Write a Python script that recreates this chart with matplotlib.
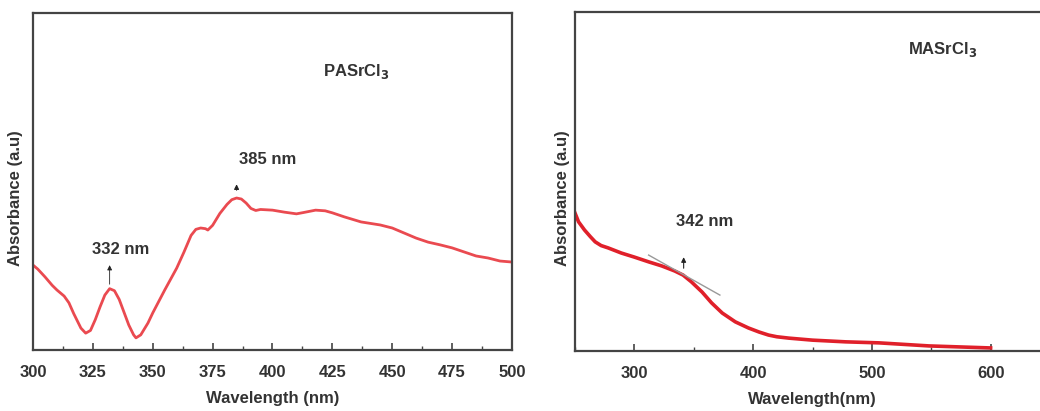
import matplotlib
matplotlib.use("Agg")
import matplotlib.pyplot as plt
from matplotlib.ticker import MultipleLocator

# ---- PASrCl3 spectrum (left) ----
pa_wl = [300, 302, 305, 308, 310, 313, 315, 317, 320, 322, 324, 326, 328, 330,
         332, 334, 336, 338, 340, 342, 343, 345, 348, 350, 355, 360, 363, 366,
         368, 370, 372, 373, 375, 378, 381, 383, 385, 387, 389, 391, 393, 395,
         400, 405, 410, 413, 418, 422, 425, 430, 437, 445, 450, 455, 460, 465,
         470, 475, 480, 485, 490, 495, 500]
pa_abs = [0.252, 0.240, 0.217, 0.192, 0.178, 0.160, 0.140, 0.108, 0.065, 0.050,
          0.058, 0.090, 0.128, 0.163, 0.182, 0.176, 0.150, 0.112, 0.074, 0.045,
          0.036, 0.045, 0.080, 0.110, 0.178, 0.243, 0.290, 0.340, 0.358, 0.362,
          0.360, 0.356, 0.370, 0.405, 0.432, 0.446, 0.451, 0.448, 0.436, 0.420,
          0.414, 0.417, 0.415, 0.409, 0.404, 0.408, 0.415, 0.413, 0.407, 0.395,
          0.380, 0.371, 0.362, 0.347, 0.332, 0.320, 0.312, 0.303, 0.291, 0.279,
          0.273, 0.264, 0.261]

# ---- MASrCl3 spectrum (right) ----
ma_wl = [250, 253, 258, 263, 267, 272, 278, 289, 300, 312, 323, 334, 341, 348,
         357, 365, 374, 385, 396, 405, 413, 420, 430, 450, 478, 506, 548, 600]
ma_abs = [0.407, 0.381, 0.357, 0.337, 0.322, 0.311, 0.304, 0.289, 0.277, 0.263,
          0.251, 0.236, 0.224, 0.204, 0.174, 0.142, 0.112, 0.086, 0.068, 0.056,
          0.047, 0.042, 0.038, 0.032, 0.027, 0.024, 0.015, 0.009]

# tangent line at the absorption edge
tan_x = [312, 372]
tan_y = [0.283, 0.165]

pa_xticks = [300, 325, 350, 375, 400, 425, 450, 475, 500]
ma_xticks = [300, 400, 500, 600]

TXT = "#333333"
SP = "#444444"
FS = 12
plt.rcParams['font.family'] = ['Liberation Sans', 'DejaVu Sans']
plt.rcParams['font.weight'] = 'bold'

fig = plt.figure(figsize=(10.4, 4.11), dpi=100)
ax1 = fig.add_axes([33/1040, 61/411, 479/1040, 337/411])
ax2 = fig.add_axes([575/1040, 60/411, 475/1040, 339/411])

# Left panel
ax1.plot(pa_wl, pa_abs, color="#ea4a50", lw=2.0, solid_joinstyle='round')
ax1.set_xlim(300, 500)
ax1.set_ylim(0, 1)
ax1.set_xticks(pa_xticks)
ax1.xaxis.set_minor_locator(MultipleLocator(12.5))
ax1.set_yticks([])
ax1.text(421, 0.825, "PASrCl$_\\mathbf{3}$", fontsize=FS, fontweight='bold', color=TXT,
         va='center', ha='left')
ax1.text(398, 0.564, "385 nm", fontsize=FS, fontweight='bold', color=TXT, ha='center', va='center')
ax1.text(336.5, 0.297, "332 nm", fontsize=FS, fontweight='bold', color=TXT, ha='center', va='center')
ax1.annotate("", xy=(385, 0.50), xytext=(385, 0.466),
             arrowprops=dict(arrowstyle='-|>', color='#222222', lw=0.8, mutation_scale=7))
ax1.annotate("", xy=(332, 0.26), xytext=(332, 0.187),
             arrowprops=dict(arrowstyle='-|>', color='#222222', lw=0.6, mutation_scale=7))
ax1.set_xlabel("Wavelength (nm)", fontsize=FS, fontweight='bold', color=TXT, labelpad=8)
ax1.set_ylabel("Absorbance (a.u)", fontsize=FS, fontweight='bold', color=TXT)
ax1.yaxis.set_label_coords(-0.021, 0.45)

# Right panel
ax2.plot(ma_wl, ma_abs, color="#e0202a", lw=2.6, solid_joinstyle='round')
ax2.plot(tan_x, tan_y, color="#999999", lw=1.0)
ax2.set_xlim(250, 650)
ax2.set_ylim(0, 1)
ax2.set_xticks(ma_xticks)
ax2.xaxis.set_minor_locator(MultipleLocator(50))
ax2.set_yticks([])
ax2.text(530, 0.888, "MASrCl$_\\mathbf{3}$", fontsize=FS, fontweight='bold', color=TXT,
         va='center', ha='left')
ax2.text(359, 0.381, "342 nm", fontsize=FS, fontweight='bold', color=TXT, ha='center', va='center')
ax2.annotate("", xy=(341.5, 0.285), xytext=(341.5, 0.236),
             arrowprops=dict(arrowstyle='-|>', color='#222222', lw=0.8, mutation_scale=7))
ax2.set_xlabel("Wavelength(nm)", fontsize=FS, fontweight='bold', color=TXT, labelpad=8)
ax2.set_ylabel("Absorbance (a.u)", fontsize=FS, fontweight='bold', color=TXT)
ax2.yaxis.set_label_coords(-0.010, 0.45)

for ax in (ax1, ax2):
    for s in ax.spines.values():
        s.set_color(SP)
        s.set_linewidth(1.6)
    ax.tick_params(axis='x', which='major', direction='in', length=5, width=1.2,
                   colors=SP, labelcolor=TXT, labelsize=FS, pad=11)
    ax.tick_params(axis='x', which='minor', direction='in', length=3, width=1.0, colors=SP)
    for lbl in ax.get_xticklabels():
        lbl.set_fontweight('bold')

fig.savefig("out.png", dpi=100)
